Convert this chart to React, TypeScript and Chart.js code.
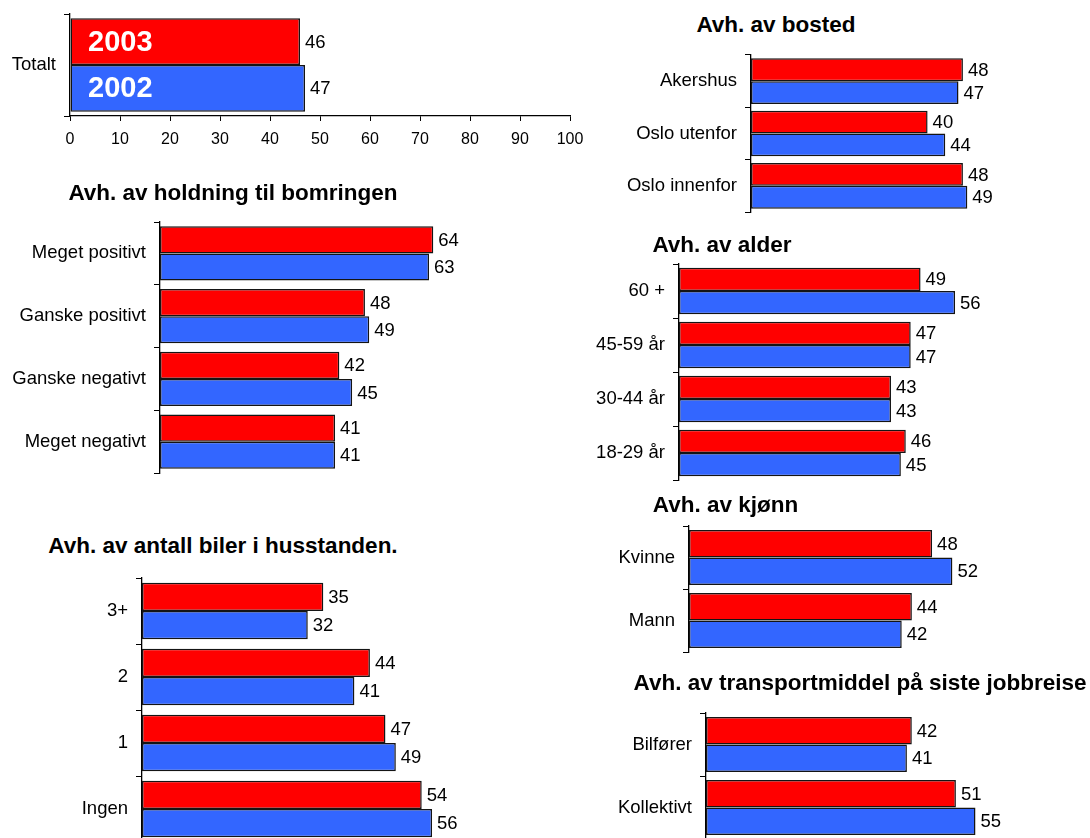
import React, { useEffect, useRef } from 'react';
import { Chart, registerables } from 'chart.js';

Chart.register(...registerables);

// ---- data ----
const seriesLabels = ['2003', '2002'];

const totalCategories = ['Totalt'];
const total2003 = [46];
const total2002 = [47];
const totalTicks = [0, 10, 20, 30, 40, 50, 60, 70, 80, 90, 100];

const bostedCategories = ['Akershus', 'Oslo utenfor', 'Oslo innenfor'];
const bosted2003 = [48, 40, 48];
const bosted2002 = [47, 44, 49];

const holdningCategories = ['Meget positivt', 'Ganske positivt', 'Ganske negativt', 'Meget negativt'];
const holdning2003 = [64, 48, 42, 41];
const holdning2002 = [63, 49, 45, 41];

const alderCategories = ['60 +', '45-59 år', '30-44 år', '18-29 år'];
const alder2003 = [49, 47, 43, 46];
const alder2002 = [56, 47, 43, 45];

const kjonnCategories = ['Kvinne', 'Mann'];
const kjonn2003 = [48, 44];
const kjonn2002 = [52, 42];

const bilerCategories = ['3+', '2', '1', 'Ingen'];
const biler2003 = [35, 44, 47, 54];
const biler2002 = [32, 41, 49, 56];

const transportCategories = ['Bilfører', 'Kollektivt'];
const transport2003 = [42, 51];
const transport2002 = [41, 55];

// ---- styling ----
const FONT = '"Liberation Sans", Arial, Helvetica, sans-serif';
const RED = '#FF0000';
const BLUE = '#3366FF';
const BAR_EDGE = '#141414';
const LABEL_SIZE = 18.5;
const TITLE_SIZE = 22.5;

const Y_AXIS_W = 170;
const PAD_T = 25;
const PAD_B = 25;
const PAD_R = 24;
const X_AXIS_H = 40;

type PanelProps = {
  categories: string[];
  values2003: number[];
  values2002: number[];
  axisX: number;
  plotTop: number;
  plotBottom: number;
  plotWidth: number;
  pxPerUnit: number;
  catPct: number;
  showScale?: boolean;
  inBarLabels?: boolean;
};

const valueLabelsPlugin = {
  id: 'valueLabels',
  afterDatasetsDraw(chart: any) {
    const ctx = chart.ctx;
    ctx.save();
    ctx.font = `${LABEL_SIZE}px ${FONT}`;
    ctx.fillStyle = '#000';
    ctx.textAlign = 'left';
    ctx.textBaseline = 'middle';
    chart.data.datasets.forEach((ds: any, i: number) => {
      chart.getDatasetMeta(i).data.forEach((bar: any, j: number) => {
        ctx.fillText(String(ds.data[j]), bar.x + 5, bar.y + 1);
      });
    });
    ctx.restore();
  },
};

const seriesNamePlugin = {
  id: 'seriesNames',
  afterDatasetsDraw(chart: any) {
    if (!chart.options.plugins.seriesNames?.enabled) return;
    const ctx = chart.ctx;
    ctx.save();
    ctx.font = `bold 29px ${FONT}`;
    ctx.fillStyle = '#fff';
    ctx.textAlign = 'left';
    ctx.textBaseline = 'middle';
    chart.data.datasets.forEach((ds: any, i: number) => {
      chart.getDatasetMeta(i).data.forEach((bar: any) => {
        ctx.fillText(ds.label, chart.chartArea.left + 18, bar.y + 1);
      });
    });
    ctx.restore();
  },
};

function BarPanel(p: PanelProps) {
  const ref = useRef<HTMLCanvasElement>(null);
  const plotH = p.plotBottom - p.plotTop;
  const width = Y_AXIS_W + p.plotWidth + PAD_R;
  const height = PAD_T + plotH + PAD_B + (p.showScale ? X_AXIS_H : 0);

  useEffect(() => {
    const xMax = p.showScale ? totalTicks[totalTicks.length - 1] : p.plotWidth / p.pxPerUnit;
    const barStyle = {
      borderColor: BAR_EDGE,
      borderWidth: 1.5,
      borderSkipped: false,
      barPercentage: 1,
      categoryPercentage: p.catPct,
    };
    const chart = new Chart(ref.current!, {
      type: 'bar',
      data: {
        labels: p.categories,
        datasets: [
          { label: seriesLabels[0], data: p.values2003, backgroundColor: RED, ...barStyle },
          { label: seriesLabels[1], data: p.values2002, backgroundColor: BLUE, ...barStyle },
        ],
      },
      options: {
        indexAxis: 'y',
        responsive: false,
        maintainAspectRatio: false,
        animation: false,
        devicePixelRatio: 1,
        layout: { padding: { top: PAD_T, bottom: PAD_B, left: 0, right: PAD_R } },
        plugins: {
          legend: { display: false },
          tooltip: { enabled: false },
          title: { display: false },
          seriesNames: { enabled: !!p.inBarLabels },
        } as any,
        scales: {
          x: {
            display: !!p.showScale,
            position: 'bottom',
            min: totalTicks[0],
            max: xMax,
            ticks: {
              stepSize: totalTicks[1] - totalTicks[0],
              color: '#000',
              padding: 9,
              font: { family: FONT, size: 16 },
              maxRotation: 0,
            },
            grid: {
              drawOnChartArea: false,
              drawTicks: true,
              tickLength: 5,
              color: '#000',
              tickColor: '#000',
            },
            border: { display: true, color: '#000', width: 1.3 },
            afterFit: (s: any) => {
              s.height = p.showScale ? X_AXIS_H : 0;
            },
          },
          y: {
            position: 'left',
            offset: true,
            ticks: {
              color: '#000',
              padding: 8,
              autoSkip: false,
              font: { family: FONT, size: LABEL_SIZE },
            },
            grid: {
              offset: true,
              drawOnChartArea: false,
              drawTicks: true,
              tickLength: 6,
              color: '#000',
              tickColor: '#000',
            },
            border: { display: true, color: '#000', width: 1.3 },
            afterFit: (s: any) => {
              s.width = Y_AXIS_W;
            },
          },
        } as any,
      },
      plugins: [valueLabelsPlugin, seriesNamePlugin],
    } as any);
    return () => chart.destroy();
  }, []);

  return (
    <canvas
      ref={ref}
      width={width}
      height={height}
      style={{
        position: 'absolute',
        left: p.axisX - Y_AXIS_W,
        top: p.plotTop - PAD_T,
        width,
        height,
      }}
    />
  );
}

function PanelTitle({ text, cx, baseline }: { text: string; cx: number; baseline: number }) {
  return (
    <div
      style={{
        position: 'absolute',
        left: cx,
        top: baseline - TITLE_SIZE * 0.8465,
        transform: 'translateX(-50%)',
        whiteSpace: 'nowrap',
        font: `bold ${TITLE_SIZE}px/${TITLE_SIZE}px ${FONT}`,
        color: '#000',
      }}
    >
      {text}
    </div>
  );
}

export default function App() {
  return (
    <div
      style={{
        position: 'fixed',
        left: 0,
        top: 0,
        width: 1090,
        height: 838,
        overflow: 'hidden',
        background: '#fff',
      }}
    >
      <BarPanel
        categories={totalCategories}
        values2003={total2003}
        values2002={total2002}
        axisX={70}
        plotTop={14}
        plotBottom={116}
        plotWidth={500}
        pxPerUnit={5}
        catPct={0.915}
        showScale
        inBarLabels
      />

      <PanelTitle text="Avh. av holdning til bomringen" cx={233} baseline={201} />
      <BarPanel
        categories={holdningCategories}
        values2003={holdning2003}
        values2002={holdning2002}
        axisX={160}
        plotTop={222}
        plotBottom={473}
        plotWidth={320}
        pxPerUnit={4.27}
        catPct={0.866}
      />

      <PanelTitle text="Avh. av antall biler i husstanden." cx={223} baseline={554.5} />
      <BarPanel
        categories={bilerCategories}
        values2003={biler2003}
        values2002={biler2002}
        axisX={142}
        plotTop={578}
        plotBottom={842}
        plotWidth={330}
        pxPerUnit={5.18}
        catPct={0.853}
      />

      <PanelTitle text="Avh. av bosted" cx={776} baseline={33} />
      <BarPanel
        categories={bostedCategories}
        values2003={bosted2003}
        values2002={bosted2002}
        axisX={751}
        plotTop={55}
        plotBottom={212}
        plotWidth={300}
        pxPerUnit={4.415}
        catPct={0.872}
      />

      <PanelTitle text="Avh. av alder" cx={722} baseline={253} />
      <BarPanel
        categories={alderCategories}
        values2003={alder2003}
        values2002={alder2002}
        axisX={679}
        plotTop={264}
        plotBottom={480}
        plotWidth={320}
        pxPerUnit={4.93}
        catPct={0.864}
      />

      <PanelTitle text="Avh. av kjønn" cx={725.5} baseline={513} />
      <BarPanel
        categories={kjonnCategories}
        values2003={kjonn2003}
        values2002={kjonn2002}
        axisX={689}
        plotTop={526}
        plotBottom={652}
        plotWidth={320}
        pxPerUnit={5.065}
        catPct={0.876}
      />

      <PanelTitle text="Avh. av transportmiddel på siste jobbreise" cx={860} baseline={691} />
      <BarPanel
        categories={transportCategories}
        values2003={transport2003}
        values2002={transport2002}
        axisX={706}
        plotTop={713}
        plotBottom={839}
        plotWidth={320}
        pxPerUnit={4.9}
        catPct={0.873}
      />
    </div>
  );
}
